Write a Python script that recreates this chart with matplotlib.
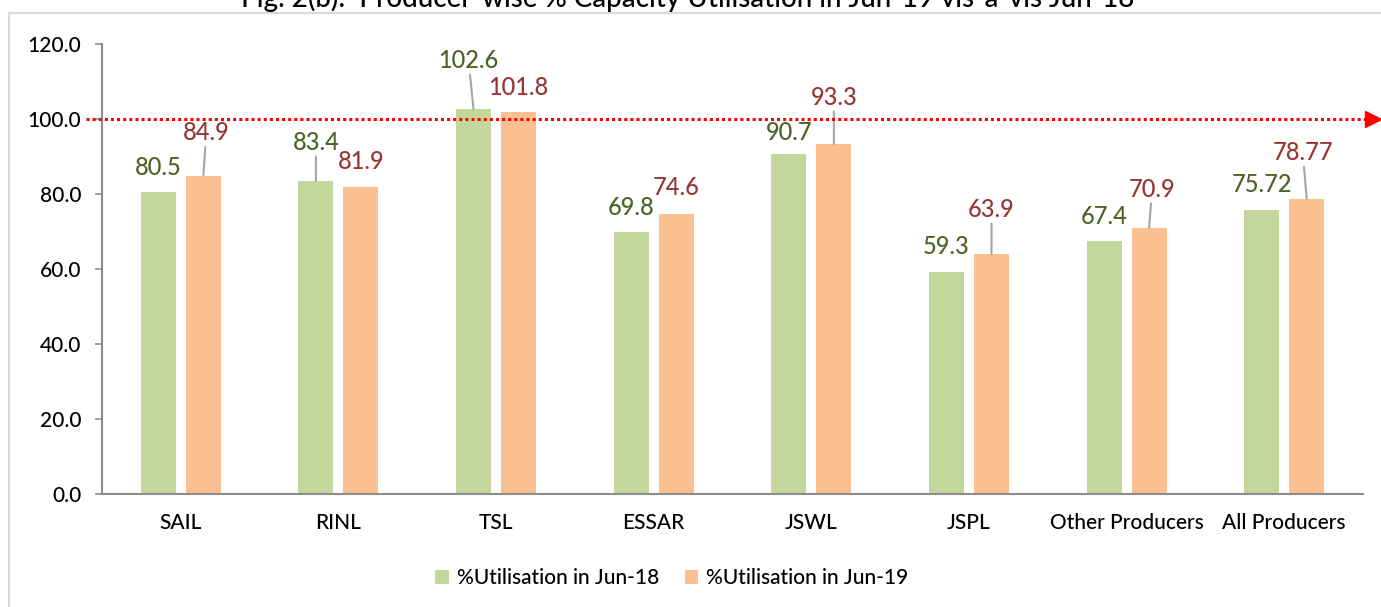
import matplotlib
matplotlib.use("Agg")
import matplotlib.pyplot as plt
import matplotlib.transforms as mtransforms
from matplotlib.lines import Line2D
import numpy as np

producers = ["SAIL", "RINL", "TSL", "ESSAR", "JSWL", "JSPL",
             "Other Producers", "All Producers"]
util_jun18 = [80.5, 83.4, 102.6, 69.8, 90.7, 59.3, 67.4, 75.72]
util_jun19 = [84.9, 81.9, 101.8, 74.6, 93.3, 63.9, 70.9, 78.77]
labels_jun18 = ["80.5", "83.4", "102.6", "69.8", "90.7", "59.3", "67.4", "75.72"]
labels_jun19 = ["84.9", "81.9", "101.8", "74.6", "93.3", "63.9", "70.9", "78.77"]
yticks = [0, 20, 40, 60, 80, 100, 120]

# label placement (pixels from bar top) and leader line flag
off18 = [(0, 25, False), (0, 39, True), (-5, 49, True), (0, 25, False),
         (0, 21, False), (0, 25, False), (0, 25, False), (0, 26, False)]
off19 = [(3, 43, True), (0, 25, False), (0, 25, False), (0, 27, False),
         (0, 47, True), (0, 45, True), (3, 39, True), (-4, 46, True)]

plt.rcParams['font.family'] = ['Lato', 'DejaVu Sans']
plt.rcParams['font.weight'] = 'medium'

green = "#C3D69B"
orange = "#FAC090"
green_txt = "#4F6228"
orange_txt = "#953735"
axis_grey = "#8C8C8C"

fig = plt.figure(figsize=(13.81, 6.07), dpi=100)
ax = fig.add_axes([102/1381, 1-494/607, 1261/1381, 450/607])

x = np.arange(len(producers))
w = 0.222
d = 0.143
b1 = ax.bar(x - d, util_jun18, w, color=green, label="%Utilisation in Jun-18")
b2 = ax.bar(x + d, util_jun19, w, color=orange, label="%Utilisation in Jun-19")

ax.set_xlim(-0.5, 7.5)
ax.set_ylim(0, 120)
ax.set_yticks(yticks)
ax.set_yticklabels([f"{t:.1f}" for t in yticks], fontsize=15)
ax.set_xticks(x)
ax.set_xticklabels(producers, fontsize=15)
ax.tick_params(axis='x', length=0, pad=14)
ax.tick_params(axis='y', length=5, width=1.2, color=axis_grey, pad=10)

for s in ["top", "right"]:
    ax.spines[s].set_visible(False)
for s in ["left", "bottom"]:
    ax.spines[s].set_color(axis_grey)
    ax.spines[s].set_linewidth(1.5)


def put_labels(xs, vals, texts, offs, col):
    for xi, v, t, (dx, dy, line) in zip(xs, vals, texts, offs):
        ap = None
        if line:
            ap = dict(arrowstyle='-', color="#A6A6A6", lw=1.5,
                      shrinkA=0, shrinkB=0)
        ax.annotate(t, xy=(xi, v), xytext=(dx, dy),
                    textcoords='offset pixels', ha='center', va='center',
                    fontsize=17, color=col, arrowprops=ap,
                    annotation_clip=False)


put_labels(x - d, util_jun18, labels_jun18, off18, green_txt)
put_labels(x + d, util_jun19, labels_jun19, off19, orange_txt)

# 100% reference line with arrow
trans = mtransforms.blended_transform_factory(ax.transAxes, ax.transData)
ax.plot([-0.013, 1.008], [100, 100], transform=trans, color="red",
        lw=2.2, linestyle=(0, (1, 1)), clip_on=False, zorder=5)
ax.plot([1.008], [100], transform=trans, marker='>', markersize=11,
        color="red", clip_on=False, zorder=5)

fig.legend(handles=[b1, b2], loc='center', ncol=2, frameon=False,
           bbox_to_anchor=(672/1381, 1-578/607), fontsize=15,
           handlelength=0.65, handleheight=0.65, handletextpad=0.4,
           columnspacing=1.2)

fig.text(688/1381, 1-7/607,
         "Fig. 2(b):  Producer-wise % Capacity Utilisation in Jun-19 vis-\u00e0-vis Jun-18",
         ha='center', va='baseline', fontsize=20)

fig.add_artist(Line2D([9/1381, 1], [1-13/607, 1-13/607],
                      color="#D9D9D9", lw=1.5, transform=fig.transFigure))
fig.add_artist(Line2D([9/1381, 9/1381], [0, 1-13/607],
                      color="#D9D9D9", lw=1.5, transform=fig.transFigure))

fig.savefig("out.png", dpi=100)
